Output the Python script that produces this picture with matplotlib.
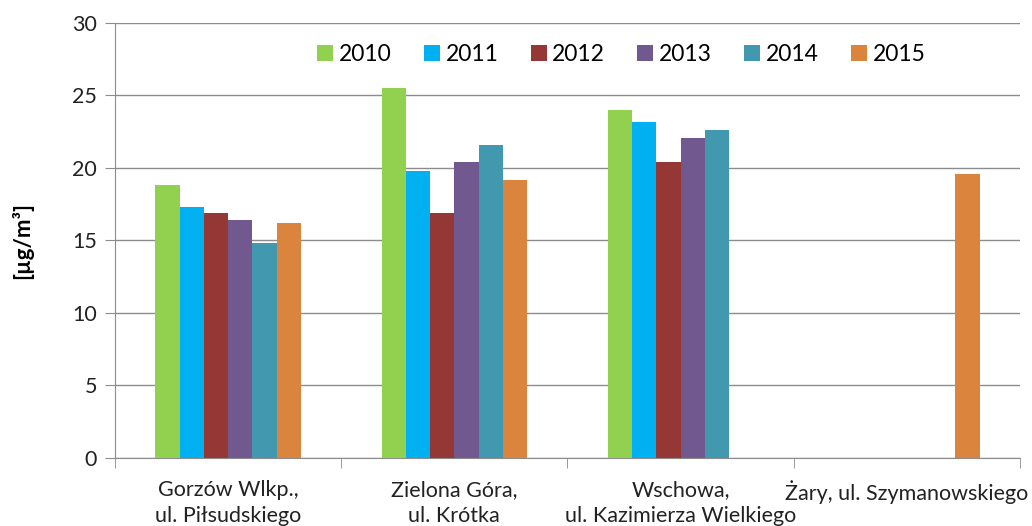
import numpy as np
import matplotlib.pyplot as plt

plt.rcParams['font.family'] = ['Lato', 'DejaVu Sans']

stations = ["Gorzów Wlkp.,\nul. Piłsudskiego", "Zielona Góra,\nul. Krótka",
            "Wschowa,\nul. Kazimierza Wielkiego", "Żary, ul. Szymanowskiego"]
years = ["2010", "2011", "2012", "2013", "2014", "2015"]
colors = ["#92D050", "#00B0F0", "#953735", "#71588F", "#4198AF", "#DB843D"]

# values per year, one per station (nan = no measurement)
v2010 = [18.8, 25.5, 24.0, np.nan]
v2011 = [17.3, 19.8, 23.2, np.nan]
v2012 = [16.9, 16.9, 20.4, np.nan]
v2013 = [16.4, 20.4, 22.1, np.nan]
v2014 = [14.8, 21.6, 22.6, np.nan]
v2015 = [16.2, 19.2, np.nan, 19.6]
series = [v2010, v2011, v2012, v2013, v2014, v2015]

fig = plt.figure(figsize=(10.32, 5.26), dpi=100)
ax = fig.add_axes([0.1114, 0.1293, 0.8770, 0.8270])

x = np.arange(len(stations))
w = 0.107
for i, (vals, c, yr) in enumerate(zip(series, colors, years)):
    ax.bar(x + (i - 2.5) * w, vals, w, color=c, label=yr, zorder=3)

ax.set_xlim(-0.5, 3.5)
ax.set_ylim(0, 30)
ax.set_yticks(range(0, 31, 5))
ax.yaxis.grid(True, color="#8c8c8c", lw=1)
ax.set_axisbelow(True)

ax.set_xticks(x)
ax.set_xticklabels(stations, fontsize=15.5, color="#222222", linespacing=1.35)
ax.tick_params(axis='x', length=0, pad=16)
ax.set_xticks(np.arange(-0.5, 4.0, 1), minor=True)
ax.tick_params(axis='x', which='minor', length=7, color="#8c8c8c")
ax.tick_params(axis='y', labelsize=15.5, length=7, color="#8c8c8c", labelcolor="#222222", pad=6)

for s in ['top', 'right']:
    ax.spines[s].set_visible(False)
for s in ['left', 'bottom']:
    ax.spines[s].set_color("#8c8c8c")

ax.set_ylabel("[µg/m³]", fontsize=16, fontweight='bold', labelpad=28)

fig.legend(loc='center', bbox_to_anchor=(0.602, 0.897), ncol=6, frameon=False,
           fontsize=16.5, handlelength=0.7, handleheight=0.7, handletextpad=0.25,
           columnspacing=1.4)

fig.savefig("out.png", dpi=100)
